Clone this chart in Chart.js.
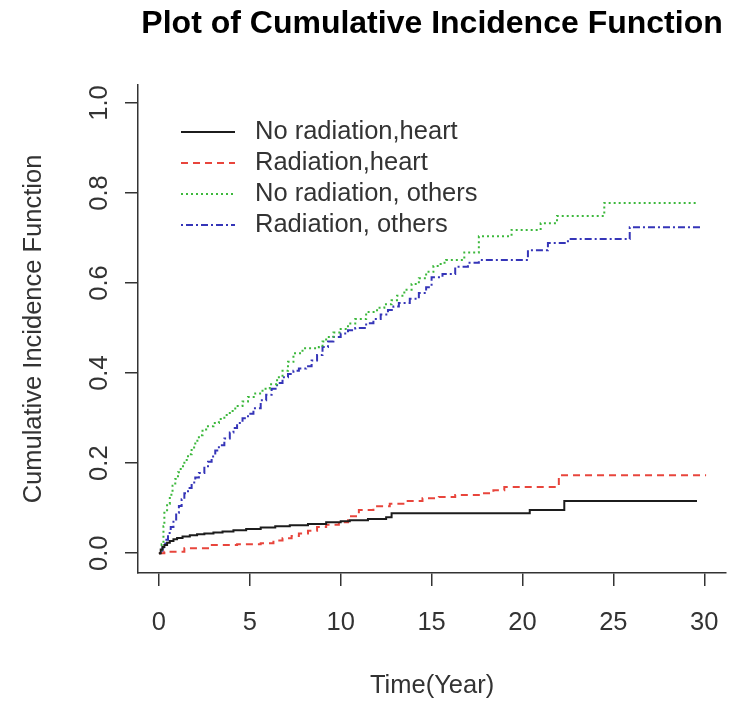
<!DOCTYPE html>
<html>
<head>
<meta charset="utf-8">
<script src="https://cdn.jsdelivr.net/npm/chart.js@4.4.1/dist/chart.umd.min.js"></script>
<style>
  html, body { margin: 0; padding: 0; background: #fff; }
  #wrap { width: 741px; height: 701px; position: relative; }
</style>
</head>
<body>
<div id="wrap"><canvas id="cifChart"></canvas></div>
<script>
// Series (time in years, cumulative incidence)
const seriesNames = ['No radiation,heart', 'Radiation,heart', 'No radiation, others', 'Radiation, others'];

const noRadHeartT = [0, 0.1, 0.2, 0.3, 0.45, 0.6, 0.8, 1.0, 1.3, 1.7, 2.1, 2.5, 3.0, 3.5, 4.1, 4.8, 5.6, 6.4, 7.2, 8.2, 9.2, 10.0, 10.5, 11.5, 12.5, 12.8, 20.4, 22.3, 29.6];
const noRadHeartY = [0, 0.008, 0.014, 0.018, 0.023, 0.027, 0.031, 0.034, 0.037, 0.04, 0.042, 0.044, 0.046, 0.048, 0.051, 0.054, 0.057, 0.06, 0.062, 0.065, 0.069, 0.071, 0.073, 0.076, 0.08, 0.089, 0.096, 0.116, 0.116];

const radHeartT = [0, 0.3, 1.4, 2.7, 4.3, 5.6, 6.3, 6.8, 7.3, 7.7, 8.2, 8.7, 9.2, 9.9, 10.4, 11.0, 11.8, 12.7, 13.6, 14.5, 15.4, 16.3, 17.7, 18.4, 19.0, 22.0, 30.1];
const radHeartY = [0, 0.003, 0.011, 0.018, 0.02, 0.022, 0.028, 0.033, 0.038, 0.044, 0.05, 0.058, 0.063, 0.069, 0.082, 0.096, 0.104, 0.11, 0.116, 0.122, 0.125, 0.129, 0.133, 0.14, 0.147, 0.173, 0.173];

const noRadOtherT = [0, 0.15, 0.25, 0.3, 0.45, 0.6, 0.75, 0.9, 1.05, 1.2, 1.4, 1.6, 1.8, 2.0, 2.2, 2.4, 2.6, 3.0, 3.3, 3.6, 3.9, 4.2, 4.6, 4.9, 5.3, 5.7, 6.1, 6.5, 6.8, 7.1, 7.4, 7.9, 8.8, 9.0, 9.2, 9.6, 10.0, 10.4, 10.8, 11.4, 12.0, 12.4, 12.8, 13.1, 13.5, 13.9, 14.3, 14.7, 15.1, 15.5, 15.8, 16.8, 17.6, 19.4, 21.0, 21.9, 24.5, 29.6];
const noRadOtherY = [0, 0.02, 0.06, 0.09, 0.11, 0.13, 0.15, 0.165, 0.18, 0.193, 0.207, 0.22, 0.235, 0.25, 0.262, 0.275, 0.282, 0.289, 0.298, 0.307, 0.316, 0.327, 0.337, 0.347, 0.355, 0.365, 0.375, 0.391, 0.405, 0.425, 0.444, 0.455, 0.458, 0.47, 0.48, 0.49, 0.498, 0.51, 0.52, 0.536, 0.545, 0.553, 0.562, 0.572, 0.585, 0.598, 0.611, 0.625, 0.638, 0.645, 0.651, 0.668, 0.704, 0.718, 0.733, 0.749, 0.778, 0.778];

const radOtherT = [0, 0.2, 0.35, 0.5, 0.65, 0.8, 0.95, 1.1, 1.25, 1.4, 1.6, 1.8, 2.0, 2.2, 2.5, 2.7, 2.9, 3.1, 3.3, 3.6, 3.9, 4.1, 4.3, 4.6, 4.9, 5.2, 5.6, 5.9, 6.2, 6.5, 6.8, 7.1, 7.4, 7.7, 8.1, 8.4, 8.7, 9.0, 9.3, 9.6, 10.0, 10.4, 10.8, 11.4, 11.8, 12.2, 12.6, 12.9, 13.2, 13.8, 14.3, 14.7, 15.0, 15.6, 16.3, 17.0, 17.6, 20.3, 21.4, 22.5, 25.9, 29.8];
const radOtherY = [0, 0.013, 0.03, 0.045, 0.058, 0.075, 0.09, 0.105, 0.12, 0.133, 0.145, 0.157, 0.168, 0.178, 0.19, 0.203, 0.215, 0.228, 0.24, 0.255, 0.268, 0.278, 0.289, 0.3, 0.31, 0.322, 0.34, 0.352, 0.365, 0.378, 0.391, 0.398, 0.405, 0.41, 0.415, 0.428, 0.44, 0.458, 0.47, 0.48, 0.488, 0.495, 0.5, 0.511, 0.52, 0.53, 0.54, 0.548, 0.556, 0.565, 0.578, 0.591, 0.613, 0.62, 0.636, 0.645, 0.651, 0.673, 0.689, 0.698, 0.724, 0.724];

const xTicks = [0, 5, 10, 15, 20, 25, 30];
const yTicks = [0, 0.2, 0.4, 0.6, 0.8, 1.0];

const ink = '#333333';
const font = "'Liberation Sans', Arial, sans-serif";
const textSize = 25.5;

function toPoints(ts, ys) {
    return ts.map((t, i) => ({ x: t, y: ys[i] }));
}

const styles = [
    { color: '#1c1c1c', dash: [] },
    { color: '#e8453c', dash: [7, 5] },
    { color: '#3cb83c', dash: [2, 3] },
    { color: '#3535b8', dash: [2, 3, 7, 3] }
];

const allT = [noRadHeartT, radHeartT, noRadOtherT, radOtherT];
const allY = [noRadHeartY, radHeartY, noRadOtherY, radOtherY];

const datasets = seriesNames.map((name, i) => ({
    label: name,
    data: toPoints(allT[i], allY[i]),
    borderColor: styles[i].color,
    borderDash: styles[i].dash,
    borderWidth: 2,
    pointRadius: 0,
    stepped: true,
    fill: false
}));

// legend drawn inside the plot, without a box (R style)
const insideLegend = {
    id: 'insideLegend',
    afterDraw(chart) {
        const c = chart.ctx;
        c.save();
        c.font = textSize + 'px ' + font;
        c.textBaseline = 'middle';
        c.textAlign = 'left';
        chart.data.datasets.forEach((ds, i) => {
            const y = 132 + i * 31;
            c.strokeStyle = ds.borderColor;
            c.lineWidth = 2;
            c.setLineDash(ds.borderDash);
            c.beginPath();
            c.moveTo(181, y);
            c.lineTo(235, y);
            c.stroke();
            c.setLineDash([]);
            c.fillStyle = ink;
            c.fillText(ds.label, 255, y);
        });
        c.restore();
    }
};

const ctx = document.getElementById('cifChart').getContext('2d');
const cifChart = new Chart(ctx, {
    type: 'line',
    data: { datasets: datasets },
    options: {
        responsive: true,
        maintainAspectRatio: false,
        animation: false,
        layout: { padding: { top: 0, right: 11, bottom: 0, left: 0 } },
        plugins: {
            legend: { display: false },
            tooltip: { enabled: false },
            title: {
                display: true,
                fullSize: false,
                text: 'Plot of Cumulative Incidence Function',
                color: '#000',
                font: { family: font, size: 32, weight: 'bold' },
                padding: { top: 5, bottom: 41.6 }
            }
        },
        scales: {
            x: {
                type: 'linear',
                min: -1.15,
                max: 31.2,
                afterBuildTicks: (s) => { s.ticks = xTicks.map(v => ({ value: v })); },
                afterFit: (s) => { s.height = 128; },
                grid: { drawOnChartArea: false, drawTicks: true, tickLength: 13, color: ink, lineWidth: 1.5 },
                border: { display: true, color: ink, width: 1.5 },
                ticks: { color: ink, font: { family: font, size: textSize }, padding: 22, maxRotation: 0, autoSkip: false },
                title: { display: true, text: 'Time(Year)', color: ink, font: { family: font, size: textSize }, padding: { bottom: 0 } }
            },
            y: {
                type: 'linear',
                min: -0.044,
                max: 1.04,
                afterBuildTicks: (s) => { s.ticks = yTicks.map(v => ({ value: v })); },
                afterFit: (s) => { s.width = 138; },
                grid: { drawOnChartArea: false, drawTicks: true, tickLength: 13, color: ink, lineWidth: 1.5 },
                border: { display: true, color: ink, width: 1.5 },
                ticks: {
                    color: ink,
                    font: { family: font, size: textSize },
                    padding: 7,
                    minRotation: 90,
                    maxRotation: 90,
                    crossAlign: 'center',
                    autoSkip: false,
                    callback: (v) => v.toFixed(1)
                },
                title: { display: true, text: 'Cumulative Incidence Function', color: ink, font: { family: font, size: textSize }, padding: { top: 19 } }
            }
        }
    },
    plugins: [insideLegend]
});
</script>
</body>
</html>
